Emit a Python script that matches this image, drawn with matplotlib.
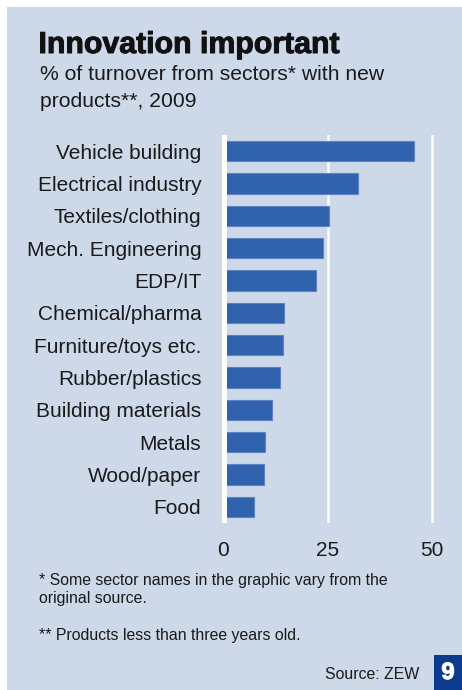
import matplotlib
matplotlib.use("Agg")
import matplotlib.pyplot as plt
from matplotlib.patches import Rectangle
import matplotlib.patheffects as pe

categories = ["Vehicle building", "Electrical industry", "Textiles/clothing",
              "Mech. Engineering", "EDP/IT", "Chemical/pharma",
              "Furniture/toys etc.", "Rubber/plastics", "Building materials",
              "Metals", "Wood/paper", "Food"]
values = [45.5, 32.2, 25.2, 23.9, 22.2, 14.5, 14.3, 13.6, 11.6, 9.9, 9.6, 7.3]
x_ticks = [0, 25, 50]
x_tick_labels = ["0", "25", "50"]

W, H = 462, 690
BG = "#CDD8E9"
BAR = "#3162AD"
FONT = "Liberation Sans"

fig = plt.figure(figsize=(W / 100, H / 100), dpi=100)
fig.patch.set_facecolor("white")

def fx(px):
    return px / W

def fy(py):
    return 1 - py / H

# panel background
fig.patches.append(Rectangle((fx(7), 0), fx(W - 7), fy(7), transform=fig.transFigure,
                             facecolor=BG, edgecolor="none", zorder=-5))

# axes: x=0 at 223.5px, x=50 at 432.3px; y from 135 to 523 px
ppu = (432.3 - 223.5) / 50
xmin, xmax = -1.0, 53.0
left_px = 223.5 + xmin * ppu
right_px = 223.5 + xmax * ppu
top_px, bot_px = 135.0, 523.0
ax = fig.add_axes([fx(left_px), fy(bot_px), fx(right_px - left_px), (bot_px - top_px) / H])
ax.set_facecolor("none")
ax.set_zorder(2)
ax.set_xlim(xmin, xmax)
ax.set_ylim(len(categories) - 0.5, -0.5)

for xv in x_ticks:
    if xv == 0:
        ax.axvline(xv, color="white", lw=3.6, zorder=3)
    else:
        ax.axvline(xv, color="white", lw=1.8, zorder=1)

pos = list(range(len(categories)))
ax.barh(pos, values, height=0.62, color=BAR, edgecolor="#5F82C2", linewidth=0.8, zorder=2)

for s in ax.spines.values():
    s.set_visible(False)
ax.set_yticks(pos)
ax.set_yticklabels(categories, fontsize=15, family=FONT, color="#1a1a1a")
ax.tick_params(axis="y", length=0, pad=13)
ax.set_xticks(x_ticks)
ax.set_xticklabels(x_tick_labels, fontsize=15, family=FONT, color="#1a1a1a")
ax.tick_params(axis="x", length=0, pad=13)

# title & subtitle
fig.text(fx(38.5), fy(53), "Innovation important", fontsize=21.8, fontweight="bold",
         family=FONT, color="#111111", va="baseline",
         path_effects=[pe.withStroke(linewidth=0.7, foreground="#111111")])
fig.text(fx(40), fy(80), "% of turnover from sectors* with new", fontsize=15.2,
         family=FONT, color="#1a1a1a", va="baseline")
fig.text(fx(40), fy(107), "products**, 2009", fontsize=15.2,
         family=FONT, color="#1a1a1a", va="baseline")

# footnotes
FS = 11.4
fig.text(fx(39), fy(585), "* Some sector names in the graphic vary from the", fontsize=FS,
         family=FONT, color="#1a1a1a", va="baseline")
fig.text(fx(39), fy(603), "original source.", fontsize=FS,
         family=FONT, color="#1a1a1a", va="baseline")
fig.text(fx(39), fy(640), "** Products less than three years old.", fontsize=FS,
         family=FONT, color="#1a1a1a", va="baseline")
fig.text(fx(419), fy(679), "Source: ZEW", fontsize=FS, ha="right",
         family=FONT, color="#1a1a1a", va="baseline")

# page number box
fig.patches.append(Rectangle((fx(434), 0), fx(W - 434), fy(655), transform=fig.transFigure,
                             facecolor="#0B3A8E", edgecolor="none", zorder=3))
fig.text(fx(448), fy(672.5), "9", fontsize=17, fontweight="bold", family=FONT,
         color="white", ha="center", va="center", zorder=4,
         path_effects=[pe.withStroke(linewidth=0.8, foreground="white")])

fig.savefig("out.png", dpi=100, facecolor=fig.get_facecolor())
